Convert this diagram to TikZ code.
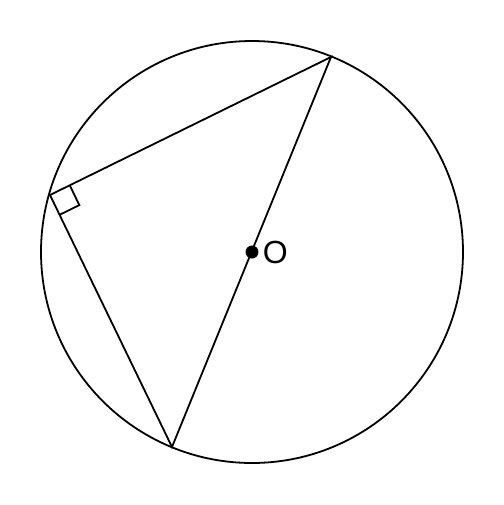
\documentclass[tikz,border=0pt]{standalone}
\usepackage{fontspec}
\setsansfont{Liberation Sans}
\usetikzlibrary{calc}

\begin{document}
\begin{tikzpicture}[x=0.5pt, y=-0.5pt, line width=0.9pt]
        \useasboundingbox (0, 0) rectangle (504, 505);
        \coordinate (O) at (252, 252);
        \coordinate (A) at (331, 57);
        \coordinate (B) at (172, 447);
        \coordinate (C) at (50, 195);
        \draw (O) circle[radius=211];
        \draw (A) -- (C) -- (B) -- cycle;
        \coordinate (CA) at ($(C)!11pt!(A)$);
        \coordinate (CB) at ($(C)!11pt!(B)$);
        \draw (CA) -- ($(CA) + (CB) - (C)$) -- (CB);
        \fill (O) circle[radius=6.5];
        \node[right, font=\sffamily\fontsize{16}{18}\selectfont, inner sep=5pt] at (O) {O};
    \end{tikzpicture}
\end{document}
